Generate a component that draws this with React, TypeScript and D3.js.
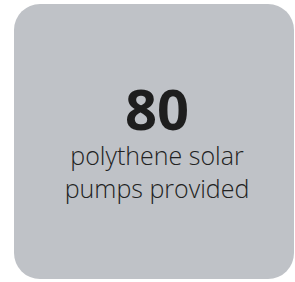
import { useEffect, useRef } from 'react';
import * as d3 from 'd3';

const statValue = ['80'];
const statLabel = ['polythene solar', 'pumps provided'];

export default function App() {
  const svgRef = useRef<SVGSVGElement>(null);

  useEffect(() => {
    const width = 295;
    const height = 282;
    const card = { x: 14, y: 4, w: 280, h: 275, r: 26 };
    const cx = 157;

    const svg = d3.select(svgRef.current);
    svg.selectAll('*').remove();
    svg.attr('width', width).attr('height', height);

    svg.append('rect')
      .attr('x', card.x)
      .attr('y', card.y)
      .attr('width', card.w)
      .attr('height', card.h)
      .attr('rx', card.r)
      .attr('fill', '#bfc2c7');

    svg.selectAll('.value')
      .data(statValue)
      .join('text')
      .attr('class', 'value')
      .attr('x', cx)
      .attr('y', 130)
      .attr('text-anchor', 'middle')
      .style('font-family', '"Open Sans", sans-serif')
      .style('font-weight', 700)
      .style('font-size', '56px')
      .attr('fill', '#1e1e1e')
      .text((d) => d);

    const line = d3.scaleLinear().domain([0, 1]).range([165, 198]);

    svg.selectAll('.label')
      .data(statLabel)
      .join('text')
      .attr('class', 'label')
      .attr('x', cx)
      .attr('y', (_d, i) => line(i))
      .attr('text-anchor', 'middle')
      .style('font-family', '"Open Sans", sans-serif')
      .style('font-weight', 300)
      .style('font-size', '25px')
      .attr('fill', '#222222')
      .text((d) => d);
  }, []);

  return (
    <svg
      ref={svgRef}
      style={{ position: 'absolute', left: 0, top: 0, display: 'block' }}
    />
  );
}
